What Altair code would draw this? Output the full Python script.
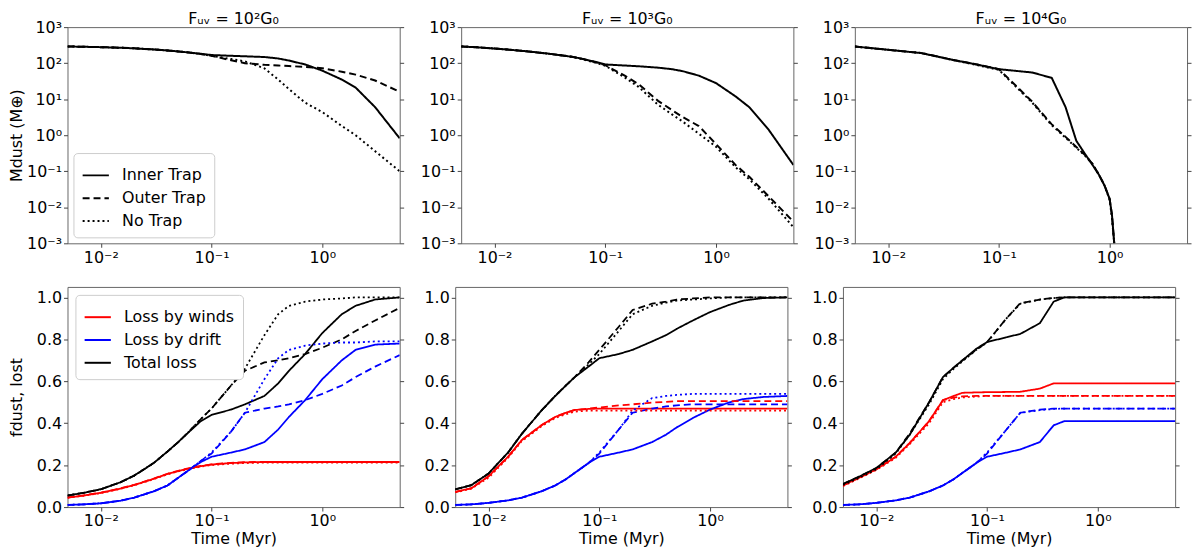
import pandas as pd
import altair as alt

# shared time grid (Myr)
TIME = [0.005, 0.007, 0.01, 0.015, 0.02, 0.03, 0.04, 0.05, 0.06, 0.08, 0.1,
        0.15, 0.2, 0.3, 0.4, 0.5, 0.7, 1.0, 1.5, 2.0, 3.0, 5.0]
# the 10^4 G0 dust masses drop out just after 1 Myr
TIME_UV4_MASS = [0.005, 0.01, 0.02, 0.04, 0.06, 0.1, 0.2, 0.3, 0.4, 0.5, 0.6,
                 0.7, 0.8, 0.9, 1.0, 1.05, 1.1]

TRAPS = ["Inner Trap", "Outer Trap", "No Trap"]
LOSSES = ["Loss by winds", "Loss by drift", "Total loss"]
TITLES = ["Fᵤᵥ = 10²G₀", "Fᵤᵥ = 10³G₀", "Fᵤᵥ = 10⁴G₀"]

X_TICKS = [0.01, 0.1, 1.0]
X_LABELS = ["10⁻²", "10⁻¹", "10⁰"]
M_TICKS = [0.001, 0.01, 0.1, 1.0, 10.0, 100.0, 1000.0]
M_LABELS = ["10⁻³", "10⁻²", "10⁻¹", "10⁰", "10¹", "10²", "10³"]
F_TICKS = [0.0, 0.2, 0.4, 0.6, 0.8, 1.0]

# dust mass (M_earth)
MASS_UV2_INNER = [290, 285, 278, 268, 258, 240, 225, 212, 200, 182, 168,
                  160, 155, 148, 135, 118, 92, 62, 35, 21, 6.0, 0.82]
MASS_UV2_OUTER = [290, 285, 278, 268, 258, 240, 225, 212, 200, 180, 160,
                  120, 100, 90, 86, 83, 79, 72, 58, 48, 33, 16]
MASS_UV2_NONE = [290, 285, 278, 268, 258, 240, 225, 212, 200, 180, 160,
                 130, 112, 72, 35, 19, 8.0, 4.4, 1.8, 1.0, 0.36, 0.10]

MASS_UV3_INNER = [290, 275, 255, 230, 212, 185, 165, 150, 135, 110, 92,
                  86, 82, 75, 68, 60, 45, 28, 12, 6.0, 1.4, 0.15]
MASS_UV3_OUTER = [290, 275, 255, 230, 212, 185, 165, 150, 135, 108, 88,
                  45, 26, 9.0, 5.0, 3.2, 1.8, 0.57, 0.15, 0.07, 0.02, 0.004]
MASS_UV3_NONE = [290, 275, 255, 230, 212, 185, 165, 150, 133, 105, 85,
                 40, 22, 7.0, 3.8, 2.4, 1.1, 0.48, 0.13, 0.06, 0.017, 0.0028]

MASS_UV4_INNER = [290, 235, 190, 120, 95, 68, 55, 39, 6.0, 0.7, 0.3,
                  0.15, 0.08, 0.04, 0.017, 0.006, 0.001]
MASS_UV4_OUTER = [290, 235, 190, 120, 95, 68, 8.5, 2.0, 0.9, 0.47, 0.28,
                  0.16, 0.08, 0.04, 0.017, 0.006, 0.001]
MASS_UV4_NONE = [290, 235, 190, 118, 92, 65, 8.0, 1.9, 0.85, 0.45, 0.27,
                 0.16, 0.08, 0.04, 0.016, 0.005, 0.001]

# fraction of dust lost, 10^2 G0
F2_WINDS_INNER = [0.045, 0.055, 0.068, 0.088, 0.105, 0.135, 0.158, 0.172, 0.182, 0.195, 0.203,
                  0.21, 0.213, 0.215, 0.215, 0.215, 0.215, 0.215, 0.215, 0.215, 0.215, 0.215]
F2_WINDS_OUTER = [0.046, 0.056, 0.069, 0.089, 0.106, 0.136, 0.159, 0.173, 0.183, 0.196, 0.204,
                  0.211, 0.214, 0.216, 0.216, 0.216, 0.216, 0.216, 0.216, 0.216, 0.216, 0.216]
F2_WINDS_NONE = [0.044, 0.054, 0.067, 0.087, 0.104, 0.133, 0.156, 0.17, 0.18, 0.193, 0.2,
                 0.207, 0.21, 0.212, 0.212, 0.212, 0.212, 0.212, 0.212, 0.212, 0.212, 0.212]
F2_DRIFT_INNER = [0.01, 0.013, 0.018, 0.03, 0.045, 0.075, 0.103, 0.14, 0.17, 0.215, 0.24,
                  0.26, 0.275, 0.31, 0.37, 0.43, 0.51, 0.61, 0.70, 0.75, 0.775, 0.78]
F2_DRIFT_OUTER = [0.01, 0.013, 0.018, 0.03, 0.045, 0.075, 0.103, 0.14, 0.17, 0.22, 0.255,
                  0.36, 0.45, 0.47, 0.48, 0.49, 0.51, 0.54, 0.58, 0.62, 0.67, 0.725]
F2_DRIFT_NONE = [0.01, 0.013, 0.018, 0.03, 0.045, 0.075, 0.103, 0.14, 0.17, 0.22, 0.26,
                 0.36, 0.45, 0.61, 0.71, 0.75, 0.77, 0.78, 0.785, 0.785, 0.79, 0.79]
F2_TOTAL_INNER = [0.055, 0.068, 0.085, 0.118, 0.15, 0.21, 0.265, 0.31, 0.35, 0.41, 0.44,
                  0.465, 0.49, 0.53, 0.59, 0.65, 0.73, 0.83, 0.92, 0.96, 0.99, 1.0]
F2_TOTAL_OUTER = [0.055, 0.068, 0.085, 0.118, 0.15, 0.21, 0.265, 0.31, 0.35, 0.42, 0.47,
                  0.58, 0.65, 0.69, 0.70, 0.71, 0.73, 0.76, 0.80, 0.84, 0.89, 0.95]
F2_TOTAL_NONE = [0.055, 0.068, 0.085, 0.118, 0.15, 0.21, 0.265, 0.31, 0.35, 0.42, 0.47,
                 0.58, 0.66, 0.82, 0.92, 0.96, 0.98, 0.99, 0.995, 1.0, 1.0, 1.0]

# fraction of dust lost, 10^3 G0
F3_WINDS_INNER = [0.072, 0.09, 0.147, 0.24, 0.32, 0.39, 0.43, 0.45, 0.463, 0.468, 0.47,
                  0.47, 0.47, 0.47, 0.47, 0.47, 0.47, 0.47, 0.47, 0.47, 0.47, 0.47]
F3_WINDS_OUTER = [0.072, 0.09, 0.147, 0.24, 0.32, 0.39, 0.43, 0.45, 0.463, 0.47, 0.475,
                  0.485, 0.49, 0.498, 0.502, 0.505, 0.505, 0.505, 0.505, 0.505, 0.505, 0.505]
F3_WINDS_NONE = [0.07, 0.088, 0.14, 0.235, 0.315, 0.385, 0.425, 0.443, 0.455, 0.46, 0.46,
                 0.46, 0.46, 0.46, 0.46, 0.46, 0.46, 0.46, 0.46, 0.46, 0.46, 0.46]
F3_DRIFT_INNER = [0.01, 0.013, 0.02, 0.032, 0.045, 0.075, 0.103, 0.133, 0.163, 0.21, 0.24,
                  0.26, 0.275, 0.31, 0.345, 0.38, 0.425, 0.465, 0.50, 0.515, 0.525, 0.53]
F3_DRIFT_OUTER = [0.01, 0.013, 0.02, 0.032, 0.045, 0.075, 0.103, 0.133, 0.163, 0.21, 0.255,
                  0.37, 0.45, 0.47, 0.48, 0.485, 0.49, 0.49, 0.49, 0.49, 0.49, 0.49]
F3_DRIFT_NONE = [0.01, 0.013, 0.02, 0.032, 0.045, 0.075, 0.103, 0.133, 0.163, 0.21, 0.26,
                 0.37, 0.46, 0.52, 0.53, 0.535, 0.54, 0.54, 0.54, 0.54, 0.54, 0.54]
F3_TOTAL_INNER = [0.084, 0.105, 0.16, 0.26, 0.35, 0.46, 0.53, 0.58, 0.62, 0.67, 0.71,
                  0.73, 0.75, 0.79, 0.82, 0.85, 0.89, 0.93, 0.965, 0.985, 0.997, 1.0]
F3_TOTAL_OUTER = [0.084, 0.105, 0.16, 0.26, 0.35, 0.46, 0.53, 0.58, 0.62, 0.69, 0.75,
                  0.86, 0.94, 0.97, 0.98, 0.99, 0.995, 1.0, 1.0, 1.0, 1.0, 1.0]
F3_TOTAL_NONE = [0.084, 0.105, 0.16, 0.26, 0.35, 0.46, 0.53, 0.58, 0.62, 0.68, 0.73,
                 0.84, 0.92, 0.96, 0.975, 0.985, 0.99, 0.995, 1.0, 1.0, 1.0, 1.0]

# fraction of dust lost, 10^4 G0
F4_WINDS_INNER = [0.103, 0.14, 0.18, 0.24, 0.305, 0.41, 0.51, 0.53, 0.545, 0.547, 0.548,
                  0.549, 0.55, 0.565, 0.59, 0.59, 0.59, 0.59, 0.59, 0.59, 0.59, 0.59]
F4_WINDS_OUTER = [0.103, 0.14, 0.18, 0.24, 0.305, 0.41, 0.51, 0.522, 0.528, 0.53, 0.53,
                  0.53, 0.53, 0.53, 0.53, 0.53, 0.53, 0.53, 0.53, 0.53, 0.53, 0.53]
F4_WINDS_NONE = [0.10, 0.137, 0.177, 0.235, 0.30, 0.40, 0.50, 0.515, 0.523, 0.527, 0.53,
                 0.53, 0.53, 0.53, 0.53, 0.53, 0.53, 0.53, 0.53, 0.53, 0.53, 0.53]
F4_DRIFT_INNER = [0.01, 0.013, 0.02, 0.032, 0.045, 0.075, 0.103, 0.133, 0.163, 0.21, 0.24,
                  0.26, 0.275, 0.31, 0.39, 0.41, 0.41, 0.41, 0.41, 0.41, 0.41, 0.41]
F4_DRIFT_OUTER = [0.01, 0.013, 0.02, 0.032, 0.045, 0.075, 0.103, 0.133, 0.163, 0.21, 0.255,
                  0.37, 0.45, 0.465, 0.47, 0.47, 0.47, 0.47, 0.47, 0.47, 0.47, 0.47]
F4_DRIFT_NONE = [0.01, 0.013, 0.02, 0.032, 0.045, 0.075, 0.103, 0.133, 0.163, 0.21, 0.26,
                 0.37, 0.45, 0.462, 0.468, 0.47, 0.47, 0.47, 0.47, 0.47, 0.47, 0.47]
F4_TOTAL_INNER = [0.11, 0.145, 0.186, 0.26, 0.344, 0.50, 0.62, 0.665, 0.70, 0.755, 0.787,
                  0.81, 0.826, 0.877, 0.98, 1.0, 1.0, 1.0, 1.0, 1.0, 1.0, 1.0]
F4_TOTAL_OUTER = [0.11, 0.145, 0.186, 0.26, 0.35, 0.50, 0.62, 0.665, 0.70, 0.75, 0.787,
                  0.90, 0.973, 0.99, 0.997, 1.0, 1.0, 1.0, 1.0, 1.0, 1.0, 1.0]
F4_TOTAL_NONE = [0.105, 0.14, 0.18, 0.255, 0.345, 0.49, 0.61, 0.66, 0.695, 0.75, 0.785,
                 0.90, 0.97, 0.99, 0.997, 1.0, 1.0, 1.0, 1.0, 1.0, 1.0, 1.0]

MASS_SETS = [
    (TIME, [MASS_UV2_INNER, MASS_UV2_OUTER, MASS_UV2_NONE]),
    (TIME, [MASS_UV3_INNER, MASS_UV3_OUTER, MASS_UV3_NONE]),
    (TIME_UV4_MASS, [MASS_UV4_INNER, MASS_UV4_OUTER, MASS_UV4_NONE]),
]
FRAC_SETS = [
    [[F2_WINDS_INNER, F2_DRIFT_INNER, F2_TOTAL_INNER],
     [F2_WINDS_OUTER, F2_DRIFT_OUTER, F2_TOTAL_OUTER],
     [F2_WINDS_NONE, F2_DRIFT_NONE, F2_TOTAL_NONE]],
    [[F3_WINDS_INNER, F3_DRIFT_INNER, F3_TOTAL_INNER],
     [F3_WINDS_OUTER, F3_DRIFT_OUTER, F3_TOTAL_OUTER],
     [F3_WINDS_NONE, F3_DRIFT_NONE, F3_TOTAL_NONE]],
    [[F4_WINDS_INNER, F4_DRIFT_INNER, F4_TOTAL_INNER],
     [F4_WINDS_OUTER, F4_DRIFT_OUTER, F4_TOTAL_OUTER],
     [F4_WINDS_NONE, F4_DRIFT_NONE, F4_TOTAL_NONE]],
]

FONT = "DejaVu Sans"
DASHES = [[1, 0], [7, 4], [2, 3]]
COLORS = ["#ff0000", "#0000ff", "#000000"]
W = 335
H_TOP, H_BOTTOM = 218, 222
EXTENT = 42
XSCALE = alt.Scale(type="log", domain=[0.005, 5], nice=False)


def label_expr(values, labels):
    # picks the label of the nearest decade
    expr = "'" + labels[-1] + "'"
    for v, lab in zip(values[-2::-1], labels[-2::-1]):
        expr = f"datum.value < {v * 3:g} ? '{lab}' : ({expr})"
    return expr


def x_enc(title):
    return alt.X("t:Q", scale=XSCALE,
                 axis=alt.Axis(values=X_TICKS, labelExpr=label_expr(X_TICKS, X_LABELS),
                               title=title, titlePadding=2, labelPadding=2))


def right_ticks(df, field, scale, ticks, xtitle):
    # ticks on the right spine, no labels
    return alt.Chart(df).mark_line(opacity=0).encode(
        x=x_enc(xtitle),
        y=alt.Y(field, scale=scale,
                axis=alt.Axis(orient="right", labels=False, title=None, values=ticks,
                              minExtent=0, maxExtent=4)),
    )


def legend_box(orient, offset, **kw):
    return alt.Legend(title=None, orient=orient, offset=offset, symbolType="stroke",
                      symbolSize=700, symbolStrokeWidth=2,
                      labelFontSize=16, labelFont=FONT, labelOffset=12, rowPadding=0,
                      padding=8, strokeColor="#cccccc", fillColor="white", cornerRadius=4, **kw)


def mass_panel(i):
    times, curves = MASS_SETS[i]
    rows = []
    for trap, vals in zip(TRAPS, curves):
        for t, m in zip(times, vals):
            rows.append({"t": t, "m": m, "trap": trap})
    df = pd.DataFrame(rows)

    yscale = alt.Scale(type="log", domain=[0.001, 1000], nice=False)
    legend = legend_box("bottom-left", 6, symbolStrokeColor="black") if i == 0 else None
    lines = alt.Chart(df).mark_line(color="black", strokeWidth=2, clip=True).encode(
        x=x_enc(None),
        y=alt.Y("m:Q", scale=yscale,
                axis=alt.Axis(values=M_TICKS, labelExpr=label_expr(M_TICKS, M_LABELS),
                              title="Mdust (M⊕)" if i == 0 else None, titlePadding=1,
                              minExtent=EXTENT, maxExtent=EXTENT)),
        strokeDash=alt.StrokeDash("trap:N", scale=alt.Scale(domain=TRAPS, range=DASHES), legend=legend),
    )
    return alt.layer(lines, right_ticks(df, "m:Q", yscale, M_TICKS, None)).resolve_axis(
        y="independent"
    ).properties(
        width=W, height=H_TOP,
        title=alt.TitleParams(TITLES[i], fontSize=16, fontWeight="normal", font=FONT, offset=-8),
    )


def frac_panel(i):
    rows = []
    for trap, series in zip(TRAPS, FRAC_SETS[i]):
        for loss, vals in zip(LOSSES, series):
            for t, f in zip(TIME, vals):
                rows.append({"t": t, "f": f, "trap": trap, "loss": loss})
    df = pd.DataFrame(rows)

    yscale = alt.Scale(domain=[0, 1.05], nice=False)
    legend = legend_box("top-left", 8) if i == 0 else None
    lines = alt.Chart(df).mark_line(strokeWidth=1.8, clip=True).encode(
        x=x_enc("Time (Myr)"),
        y=alt.Y("f:Q", scale=yscale,
                axis=alt.Axis(values=F_TICKS, format=".1f",
                              title="fdust, lost" if i == 0 else None, titlePadding=7,
                              minExtent=EXTENT - 6, maxExtent=EXTENT - 6)),
        color=alt.Color("loss:N", scale=alt.Scale(domain=LOSSES, range=COLORS), legend=legend),
        strokeDash=alt.StrokeDash("trap:N", scale=alt.Scale(domain=TRAPS, range=DASHES), legend=None),
    )
    return alt.layer(lines, right_ticks(df, "f:Q", yscale, F_TICKS, "Time (Myr)")).resolve_axis(
        y="independent"
    ).properties(width=W, height=H_BOTTOM)


top = alt.hconcat(*[mass_panel(i) for i in range(3)], spacing=14).resolve_scale(
    strokeDash="independent"
).resolve_legend(strokeDash="independent")
bottom = alt.hconcat(*[frac_panel(i) for i in range(3)], spacing=14).resolve_scale(
    color="independent", strokeDash="independent"
).resolve_legend(color="independent", strokeDash="independent")

chart = alt.vconcat(top, bottom, spacing=20).resolve_scale(
    color="independent", strokeDash="independent"
).resolve_legend(
    color="independent", strokeDash="independent"
).properties(
    padding=0, background="white"
).configure_view(
    stroke="#666666", strokeWidth=1
).configure_axis(
    grid=False, domain=False, tickColor="#444444", tickSize=4,
    labelFont=FONT, labelFontSize=16, labelColor="black",
    titleFont=FONT, titleFontSize=16, titleFontWeight="normal", titleColor="black",
)

chart.save("out.html", embed_options={"renderer": "svg", "actions": False})
